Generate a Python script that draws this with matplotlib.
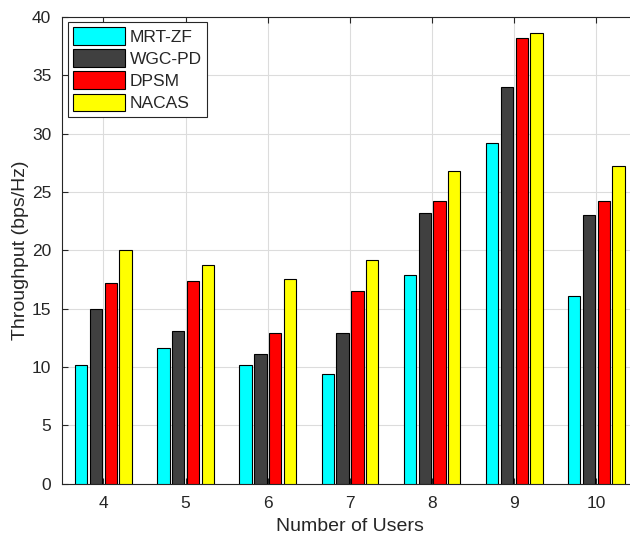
import numpy as np
import matplotlib
matplotlib.use("Agg")
from matplotlib import pyplot as plt

users = [4, 5, 6, 7, 8, 9, 10]
mrt_zf = [10.2, 11.6, 10.2, 9.4, 17.9, 29.2, 16.1]
wgc_pd = [15.0, 13.1, 11.1, 12.9, 23.2, 34.0, 23.0]
dpsm = [17.2, 17.4, 12.9, 16.5, 24.2, 38.2, 24.2]
nacas = [20.0, 18.7, 17.5, 19.2, 26.8, 38.6, 27.2]

names = ["MRT-ZF", "WGC-PD", "DPSM", "NACAS"]
colors = ["#00ffff", "#404040", "#ff0000", "#ffff00"]

plt.rcParams['font.family'] = ['Liberation Sans', 'DejaVu Sans']
txt = "#262626"

fig = plt.figure(figsize=(6.3, 5.4), dpi=100)
ax = fig.add_axes([0.099, 0.104, 0.913, 0.865])

x = np.array(users)
step = 0.18
width = 0.15
series = [mrt_zf, wgc_pd, dpsm, nacas]
for i, vals in enumerate(series):
    ax.bar(x + (i - 1.5) * step, vals, width, color=colors[i],
           edgecolor="black", linewidth=0.8, label=names[i], zorder=3)

ax.set_xlim(3.5, 10.5)
ax.set_ylim(0, 40)
ax.set_xticks(users)
ax.set_yticks(range(0, 41, 5))
ax.grid(True, color="#dcdcdc", linewidth=0.8, zorder=0)
ax.tick_params(direction="in", length=4, labelsize=12.5, colors=txt,
               top=True, right=True)
ax.tick_params(axis="y", pad=8)
ax.tick_params(axis="x", pad=9)
for s in ax.spines.values():
    s.set_color("#262626")
    s.set_linewidth(0.8)

ax.set_xlabel("Number of Users", fontsize=14, color=txt, labelpad=5)
ax.set_ylabel("Throughput (bps/Hz)", fontsize=14, color=txt, labelpad=2)

leg = ax.legend(loc="upper left", fontsize=12.5, fancybox=False, framealpha=1,
                edgecolor="#262626", handlelength=3.0, handleheight=1.2,
                handletextpad=0.3, labelspacing=0.25, borderpad=0.3,
                borderaxespad=0.3)
leg.get_frame().set_linewidth(0.8)
for t in leg.get_texts():
    t.set_color(txt)

fig.savefig("out.png", dpi=100)
